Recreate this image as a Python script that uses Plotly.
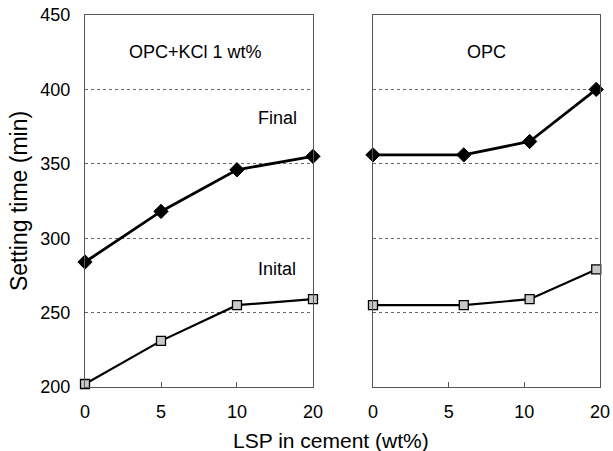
import plotly.graph_objects as go

x_labels = ["0", "5", "10", "20"]
x_pos = [0, 1, 2, 3]
left_final = [284, 318, 346, 355]
left_initial = [202, 231, 255, 259]
right_x = [0, 1.2, 2.07, 2.95]
right_final = [356, 356, 365, 400]
right_initial = [255, 255, 259, 279]
y_ticks = [200, 250, 300, 350, 400, 450]

FONT = "Liberation Sans, Arial, sans-serif"

fig = go.Figure()

def add_series(xs, ys, xa, ya, filled):
    if filled:
        fig.add_trace(go.Scatter(x=xs, y=ys, xaxis=xa, yaxis=ya, mode="lines+markers",
                                 line=dict(color="black", width=2.8),
                                 marker=dict(symbol="diamond", size=11, color="black",
                                             line=dict(color="black", width=1)),
                                 showlegend=False, cliponaxis=False))
    else:
        fig.add_trace(go.Scatter(x=xs, y=ys, xaxis=xa, yaxis=ya, mode="lines+markers",
                                 line=dict(color="black", width=2.2),
                                 marker=dict(symbol="square", size=9, color="#c8c8c8",
                                             line=dict(color="black", width=1.3)),
                                 showlegend=False, cliponaxis=False))

add_series(x_pos, left_final, "x", "y", True)
add_series(x_pos, left_initial, "x", "y", False)
add_series(right_x, right_final, "x2", "y2", True)
add_series(right_x, right_initial, "x2", "y2", False)

xcommon = dict(range=[0, 3], tickmode="array", tickvals=x_pos, ticktext=x_labels,
               showgrid=False, zeroline=False, showline=True, mirror=True,
               linecolor="#555", linewidth=1, ticks="inside", ticklen=5,
               tickcolor="#555", ticklabelstandoff=8, automargin=False,
               tickfont=dict(family=FONT, size=18, color="black"))
ycommon = dict(range=[200, 450], tickvals=y_ticks, showgrid=True,
               gridcolor="#666", griddash="dot", gridwidth=1, zeroline=False,
               showline=True, mirror=True, linecolor="#555", linewidth=1,
               automargin=False,
               tickfont=dict(family=FONT, size=18, color="black"))

fig.update_layout(
    width=613, height=451,
    margin=dict(l=85, r=13, t=15, b=64),
    paper_bgcolor="white", plot_bgcolor="white",
    xaxis=dict(domain=[0, 0.4427], **xcommon),
    xaxis2=dict(domain=[0.5592, 1], **xcommon),
    yaxis=dict(anchor="x", showticklabels=True, ticks="", ticklabelstandoff=10,
               title=dict(text="Setting time (min)", font=dict(family=FONT, size=23, color="black"),
                          standoff=6),
               **ycommon),
    yaxis2=dict(anchor="x2", showticklabels=False, ticks="", **ycommon),
    annotations=[
        dict(text="OPC+KCl 1 wt%", x=1.45, y=425, xref="x", yref="y", showarrow=False,
             font=dict(family=FONT, size=18, color="black")),
        dict(text="Final", x=2.53, y=381, xref="x", yref="y", showarrow=False,
             font=dict(family=FONT, size=18, color="black")),
        dict(text="Inital", x=2.53, y=279, xref="x", yref="y", showarrow=False,
             font=dict(family=FONT, size=18, color="black")),
        dict(text="OPC", x=1.5, y=425, xref="x2", yref="y2", showarrow=False,
             font=dict(family=FONT, size=18, color="black")),
        dict(text="LSP in cement (wt%)", x=0.478, y=-0.143, xref="paper", yref="paper",
             showarrow=False, xanchor="center", yanchor="middle",
             font=dict(family=FONT, size=21, color="black")),
    ],
)

fig.write_html("out.html")
